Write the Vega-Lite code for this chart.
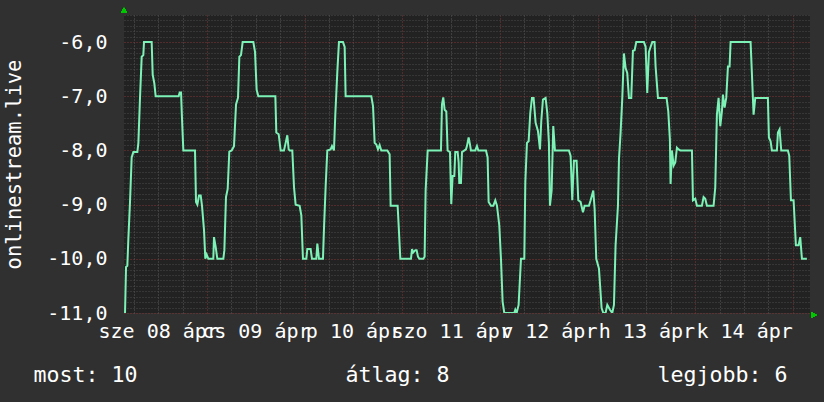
{
  "$schema": "https://vega.github.io/schema/vega-lite/v6.json",
  "width": 686,
  "height": 298,
  "autosize": {"type": "none"},
  "padding": {"left": 124, "top": 15, "right": 14, "bottom": 89},
  "background": "#303030",
  "view": {"fill": "#222222", "stroke": null},
  "resolve": {"axis": {"x": "independent", "y": "independent"}},
  "data": {"values": [
    {"t":"2020-04-08T03:51","v":-11},{"t":"2020-04-08T04:06","v":-10.15},{"t":"2020-04-08T04:25","v":-10.13},{"t":"2020-04-08T04:40","v":-9.64},{"t":"2020-04-08T05:05","v":-8.94},{"t":"2020-04-08T05:29","v":-8.13},{"t":"2020-04-08T05:54","v":-8.03},{"t":"2020-04-08T06:53","v":-8.03},{"t":"2020-04-08T07:08","v":-7.86},{"t":"2020-04-08T07:32","v":-7.03},{"t":"2020-04-08T07:57","v":-6.27},{"t":"2020-04-08T08:21","v":-6.24},{"t":"2020-04-08T08:31","v":-6},{"t":"2020-04-08T10:24","v":-6},{"t":"2020-04-08T10:39","v":-6.6},{"t":"2020-04-08T11:03","v":-6.76},{"t":"2020-04-08T11:23","v":-7},{"t":"2020-04-08T17:02","v":-7},{"t":"2020-04-08T17:17","v":-6.93},{"t":"2020-04-08T17:37","v":-6.93},{"t":"2020-04-08T17:51","v":-7.4},{"t":"2020-04-08T18:11","v":-8},{"t":"2020-04-08T21:03","v":-8},{"t":"2020-04-08T21:18","v":-8.95},{"t":"2020-04-08T21:38","v":-9},{"t":"2020-04-08T22:02","v":-8.83},{"t":"2020-04-08T22:27","v":-8.83},{"t":"2020-04-08T22:46","v":-9.02},{"t":"2020-04-08T23:16","v":-9.47},{"t":"2020-04-08T23:35","v":-10},{"t":"2020-04-08T23:55","v":-9.92},
    {"t":"2020-04-09T00:20","v":-10},{"t":"2020-04-09T01:33","v":-10},{"t":"2020-04-09T01:43","v":-9.6},{"t":"2020-04-09T02:08","v":-9.78},{"t":"2020-04-09T02:32","v":-10},{"t":"2020-04-09T04:01","v":-10},{"t":"2020-04-09T04:16","v":-9.84},{"t":"2020-04-09T04:40","v":-8.86},{"t":"2020-04-09T05:05","v":-8.71},{"t":"2020-04-09T05:29","v":-8.02},{"t":"2020-04-09T06:04","v":-8},{"t":"2020-04-09T06:38","v":-7.92},{"t":"2020-04-09T07:08","v":-7.15},{"t":"2020-04-09T07:37","v":-7.03},{"t":"2020-04-09T07:57","v":-6.27},{"t":"2020-04-09T08:21","v":-6.24},{"t":"2020-04-09T08:46","v":-6},{"t":"2020-04-09T11:23","v":-6},{"t":"2020-04-09T11:48","v":-6.18},{"t":"2020-04-09T12:12","v":-6.88},{"t":"2020-04-09T12:37","v":-7},{"t":"2020-04-09T16:48","v":-7},{"t":"2020-04-09T17:02","v":-7.67},{"t":"2020-04-09T17:37","v":-7.7},{"t":"2020-04-09T18:06","v":-8},{"t":"2020-04-09T18:55","v":-8},{"t":"2020-04-09T19:20","v":-7.86},{"t":"2020-04-09T19:44","v":-7.72},{"t":"2020-04-09T20:04","v":-7.98},{"t":"2020-04-09T20:19","v":-8},{"t":"2020-04-09T20:58","v":-8},{"t":"2020-04-09T21:23","v":-8.68},{"t":"2020-04-09T21:47","v":-9},{"t":"2020-04-09T22:46","v":-9.02},{"t":"2020-04-09T23:11","v":-9.2},{"t":"2020-04-09T23:35","v":-10},
    {"t":"2020-04-10T00:25","v":-10},{"t":"2020-04-10T00:39","v":-9.82},{"t":"2020-04-10T01:28","v":-9.82},{"t":"2020-04-10T01:48","v":-10},{"t":"2020-04-10T02:52","v":-10},{"t":"2020-04-10T03:07","v":-9.72},{"t":"2020-04-10T03:31","v":-10},{"t":"2020-04-10T04:30","v":-10},{"t":"2020-04-10T04:45","v":-9.44},{"t":"2020-04-10T05:10","v":-8.65},{"t":"2020-04-10T05:34","v":-8},{"t":"2020-04-10T06:23","v":-7.98},{"t":"2020-04-10T06:43","v":-7.92},{"t":"2020-04-10T07:12","v":-8},{"t":"2020-04-10T07:32","v":-7.34},{"t":"2020-04-10T08:02","v":-6.54},{"t":"2020-04-10T08:26","v":-6},{"t":"2020-04-10T09:25","v":-6},{"t":"2020-04-10T09:50","v":-6.09},{"t":"2020-04-10T10:04","v":-7},{"t":"2020-04-10T16:23","v":-7},{"t":"2020-04-10T16:48","v":-7.18},{"t":"2020-04-10T17:12","v":-7.86},{"t":"2020-04-10T17:37","v":-7.89},{"t":"2020-04-10T18:01","v":-7.98},{"t":"2020-04-10T18:26","v":-7.9},{"t":"2020-04-10T18:50","v":-8},{"t":"2020-04-10T20:19","v":-8},{"t":"2020-04-10T20:53","v":-8.07},{"t":"2020-04-10T21:08","v":-9.02},{"t":"2020-04-10T22:51","v":-9.02},{"t":"2020-04-10T23:06","v":-9.38},{"t":"2020-04-10T23:31","v":-10},
    {"t":"2020-04-11T02:08","v":-10},{"t":"2020-04-11T02:23","v":-9.82},{"t":"2020-04-11T02:42","v":-9.88},{"t":"2020-04-11T03:12","v":-9.84},{"t":"2020-04-11T03:31","v":-9.84},{"t":"2020-04-11T03:51","v":-9.96},{"t":"2020-04-11T04:11","v":-10},{"t":"2020-04-11T05:10","v":-10},{"t":"2020-04-11T05:29","v":-9.96},{"t":"2020-04-11T05:44","v":-8.74},{"t":"2020-04-11T06:14","v":-8},{"t":"2020-04-11T09:30","v":-8},{"t":"2020-04-11T09:45","v":-7.15},{"t":"2020-04-11T10:04","v":-7.02},{"t":"2020-04-11T10:24","v":-7.25},{"t":"2020-04-11T10:49","v":-7.28},{"t":"2020-04-11T11:08","v":-8},{"t":"2020-04-11T11:43","v":-8.03},{"t":"2020-04-11T12:02","v":-8.99},{"t":"2020-04-11T12:22","v":-8.47},{"t":"2020-04-11T12:47","v":-8.47},{"t":"2020-04-11T13:01","v":-8.03},{"t":"2020-04-11T13:36","v":-8.03},{"t":"2020-04-11T13:51","v":-8.22},{"t":"2020-04-11T14:00","v":-8.6},{"t":"2020-04-11T14:25","v":-8.6},{"t":"2020-04-11T14:40","v":-8.03},{"t":"2020-04-11T15:39","v":-7.98},{"t":"2020-04-11T15:53","v":-7.92},{"t":"2020-04-11T16:18","v":-7.76},{"t":"2020-04-11T16:38","v":-7.89},{"t":"2020-04-11T16:52","v":-8},{"t":"2020-04-11T17:56","v":-8},{"t":"2020-04-11T18:21","v":-7.92},{"t":"2020-04-11T18:41","v":-8},{"t":"2020-04-11T20:34","v":-8},{"t":"2020-04-11T20:58","v":-8.13},{"t":"2020-04-11T21:13","v":-8.95},{"t":"2020-04-11T21:47","v":-9.02},{"t":"2020-04-11T22:22","v":-9.02},{"t":"2020-04-11T22:51","v":-8.92},{"t":"2020-04-11T23:16","v":-9.02},{"t":"2020-04-11T23:50","v":-9.38},
    {"t":"2020-04-12T00:15","v":-10},{"t":"2020-04-12T00:39","v":-10.79},{"t":"2020-04-12T01:04","v":-11},{"t":"2020-04-12T03:31","v":-11},{"t":"2020-04-12T03:46","v":-10.94},{"t":"2020-04-12T04:06","v":-11},{"t":"2020-04-12T04:35","v":-10.85},{"t":"2020-04-12T05:10","v":-10},{"t":"2020-04-12T05:59","v":-10},{"t":"2020-04-12T06:14","v":-8.59},{"t":"2020-04-12T06:38","v":-7.86},{"t":"2020-04-12T07:03","v":-7.83},{"t":"2020-04-12T07:27","v":-7.31},{"t":"2020-04-12T07:52","v":-7.03},{"t":"2020-04-12T08:16","v":-7.03},{"t":"2020-04-12T08:46","v":-7.49},{"t":"2020-04-12T09:20","v":-7.64},{"t":"2020-04-12T09:50","v":-7.98},{"t":"2020-04-12T10:09","v":-7.46},{"t":"2020-04-12T10:34","v":-7.06},{"t":"2020-04-12T11:13","v":-7.03},{"t":"2020-04-12T11:38","v":-7.31},{"t":"2020-04-12T12:02","v":-7.86},{"t":"2020-04-12T12:17","v":-9.02},{"t":"2020-04-12T12:42","v":-8.74},{"t":"2020-04-12T13:06","v":-7.55},{"t":"2020-04-12T13:31","v":-8},{"t":"2020-04-12T16:57","v":-8},{"t":"2020-04-12T17:22","v":-8.1},{"t":"2020-04-12T17:46","v":-8.92},{"t":"2020-04-12T18:11","v":-8.19},{"t":"2020-04-12T18:50","v":-8.19},{"t":"2020-04-12T19:15","v":-8.92},{"t":"2020-04-12T19:49","v":-8.95},{"t":"2020-04-12T20:24","v":-9.14},{"t":"2020-04-12T20:48","v":-9.02},{"t":"2020-04-12T21:52","v":-9.02},{"t":"2020-04-12T22:17","v":-8.92},{"t":"2020-04-12T22:56","v":-8.74},{"t":"2020-04-12T23:16","v":-9.08},{"t":"2020-04-12T23:40","v":-10},
    {"t":"2020-04-13T00:20","v":-10.18},{"t":"2020-04-13T00:59","v":-10.91},{"t":"2020-04-13T01:24","v":-11},{"t":"2020-04-13T01:58","v":-11},{"t":"2020-04-13T02:23","v":-10.85},{"t":"2020-04-13T03:02","v":-10.94},{"t":"2020-04-13T03:36","v":-11},{"t":"2020-04-13T04:01","v":-10.85},{"t":"2020-04-13T04:25","v":-9.75},{"t":"2020-04-13T05:00","v":-9.02},{"t":"2020-04-13T05:15","v":-8.16},{"t":"2020-04-13T05:39","v":-7.67},{"t":"2020-04-13T06:04","v":-7.03},{"t":"2020-04-13T06:28","v":-6.21},{"t":"2020-04-13T06:53","v":-6.48},{"t":"2020-04-13T07:17","v":-6.57},{"t":"2020-04-13T07:42","v":-7.03},{"t":"2020-04-13T08:16","v":-7.03},{"t":"2020-04-13T08:41","v":-6.16},{"t":"2020-04-13T09:06","v":-6.15},{"t":"2020-04-13T09:30","v":-6},{"t":"2020-04-13T11:23","v":-6},{"t":"2020-04-13T11:48","v":-6.09},{"t":"2020-04-13T12:12","v":-6.94},{"t":"2020-04-13T12:37","v":-6.18},{"t":"2020-04-13T13:01","v":-6.09},{"t":"2020-04-13T13:26","v":-6},{"t":"2020-04-13T14:00","v":-6},{"t":"2020-04-13T14:15","v":-6.45},{"t":"2020-04-13T14:50","v":-7.03},{"t":"2020-04-13T16:57","v":-7.03},{"t":"2020-04-13T17:22","v":-7.28},{"t":"2020-04-13T17:46","v":-7.8},{"t":"2020-04-13T17:56","v":-8.62},{"t":"2020-04-13T18:16","v":-8},{"t":"2020-04-13T18:41","v":-8.28},{"t":"2020-04-13T19:05","v":-8.22},{"t":"2020-04-13T19:30","v":-7.95},{"t":"2020-04-13T19:54","v":-7.98},{"t":"2020-04-13T20:19","v":-8},{"t":"2020-04-13T23:11","v":-8},{"t":"2020-04-13T23:26","v":-8.92},
    {"t":"2020-04-14T00:00","v":-8.89},{"t":"2020-04-14T00:25","v":-9.02},{"t":"2020-04-14T01:38","v":-9.02},{"t":"2020-04-14T02:03","v":-8.86},{"t":"2020-04-14T02:27","v":-8.89},{"t":"2020-04-14T02:52","v":-9.02},{"t":"2020-04-14T04:30","v":-9.02},{"t":"2020-04-14T04:55","v":-8.68},{"t":"2020-04-14T05:19","v":-7.34},{"t":"2020-04-14T05:44","v":-7.03},{"t":"2020-04-14T06:09","v":-7.55},{"t":"2020-04-14T06:33","v":-7.28},{"t":"2020-04-14T06:48","v":-6.97},{"t":"2020-04-14T07:12","v":-7.21},{"t":"2020-04-14T07:37","v":-7.03},{"t":"2020-04-14T08:02","v":-6.45},{"t":"2020-04-14T08:26","v":-6.45},{"t":"2020-04-14T08:41","v":-6},{"t":"2020-04-14T13:36","v":-6},{"t":"2020-04-14T13:55","v":-6.57},{"t":"2020-04-14T14:20","v":-7.34},{"t":"2020-04-14T14:45","v":-7.03},{"t":"2020-04-14T17:51","v":-7.03},{"t":"2020-04-14T18:06","v":-7.76},{"t":"2020-04-14T18:31","v":-7.83},{"t":"2020-04-14T18:50","v":-8},{"t":"2020-04-14T20:04","v":-8},{"t":"2020-04-14T20:19","v":-7.67},{"t":"2020-04-14T20:43","v":-7.61},{"t":"2020-04-14T21:08","v":-8},{"t":"2020-04-14T22:46","v":-8},{"t":"2020-04-14T23:06","v":-8.1},{"t":"2020-04-14T23:31","v":-8.92},
    {"t":"2020-04-15T00:10","v":-8.92},{"t":"2020-04-15T00:44","v":-9.75},{"t":"2020-04-15T01:24","v":-9.75},{"t":"2020-04-15T01:48","v":-9.6},{"t":"2020-04-15T02:13","v":-10},{"t":"2020-04-15T03:26","v":-10}
  ]},
  "layer": [
    {
      "mark": {"type": "line", "color": "#7cf2b6", "strokeWidth": 2, "interpolate": "linear", "clip": true},
      "encoding": {
        "x": {
          "field": "t", "type": "temporal",
          "scale": {"domain": [{"year": 2020, "month": 4, "date": 8, "hours": 3, "minutes": 36}, {"year": 2020, "month": 4, "date": 15, "hours": 4, "minutes": 12}]},
          "axis": {
            "orient": "bottom",
            "values": [
              {"year":2020,"month":4,"date":8,"hours":6},{"year":2020,"month":4,"date":8,"hours":12},{"year":2020,"month":4,"date":8,"hours":18},
              {"year":2020,"month":4,"date":9,"hours":0},{"year":2020,"month":4,"date":9,"hours":6},{"year":2020,"month":4,"date":9,"hours":12},{"year":2020,"month":4,"date":9,"hours":18},
              {"year":2020,"month":4,"date":10,"hours":0},{"year":2020,"month":4,"date":10,"hours":6},{"year":2020,"month":4,"date":10,"hours":12},{"year":2020,"month":4,"date":10,"hours":18},
              {"year":2020,"month":4,"date":11,"hours":0},{"year":2020,"month":4,"date":11,"hours":6},{"year":2020,"month":4,"date":11,"hours":12},{"year":2020,"month":4,"date":11,"hours":18},
              {"year":2020,"month":4,"date":12,"hours":0},{"year":2020,"month":4,"date":12,"hours":6},{"year":2020,"month":4,"date":12,"hours":12},{"year":2020,"month":4,"date":12,"hours":18},
              {"year":2020,"month":4,"date":13,"hours":0},{"year":2020,"month":4,"date":13,"hours":6},{"year":2020,"month":4,"date":13,"hours":12},{"year":2020,"month":4,"date":13,"hours":18},
              {"year":2020,"month":4,"date":14,"hours":0},{"year":2020,"month":4,"date":14,"hours":6},{"year":2020,"month":4,"date":14,"hours":12},{"year":2020,"month":4,"date":14,"hours":18},
              {"year":2020,"month":4,"date":15,"hours":0}
            ],
            "grid": true,
            "gridColor": {"condition": {"test": "hours(datum.value) === 0", "value": "#7e3636"}, "value": "#5a5a5a"},
            "gridDash": [1, 2],
            "gridWidth": 1,
            "ticks": false,
            "domain": false,
            "labelExpr": "hours(datum.value) === 12 ? (['v','h','k','sze','cs','p','szo'][day(datum.value)] + ' ' + timeFormat(datum.value, '%d') + ' ápr') : ''",
            "labelFont": "DejaVu Sans Mono",
            "labelFontSize": 20,
            "labelColor": "#ffffff",
            "labelPadding": 8,
            "labelFlush": false,
            "labelOverlap": false,
            "labelBound": false,
            "title": "most: 10\u00a0\u00a0\u00a0\u00a0\u00a0\u00a0\u00a0\u00a0\u00a0\u00a0\u00a0\u00a0\u00a0\u00a0\u00a0\u00a0átlag: 8\u00a0\u00a0\u00a0\u00a0\u00a0\u00a0\u00a0\u00a0\u00a0\u00a0\u00a0\u00a0\u00a0\u00a0\u00a0\u00a0legjobb: 6",
            "titleFont": "DejaVu Sans Mono",
            "titleFontSize": 21.6,
            "titleFontWeight": "normal",
            "titleColor": "#ffffff",
            "titleX": -91,
            "titleY": 62,
            "titleAlign": "left",
            "titleBaseline": "middle"
          }
        },
        "y": {
          "field": "v", "type": "quantitative",
          "scale": {"domain": [-11, -5.5], "nice": false, "zero": false},
          "axis": {
            "orient": "left",
            "values": [-11,-10.9,-10.8,-10.7,-10.6,-10.5,-10.4,-10.3,-10.2,-10.1,-10,-9.9,-9.8,-9.7,-9.6,-9.5,-9.4,-9.3,-9.2,-9.1,-9,-8.9,-8.8,-8.7,-8.6,-8.5,-8.4,-8.3,-8.2,-8.1,-8,-7.9,-7.8,-7.7,-7.6,-7.5,-7.4,-7.3,-7.2,-7.1,-7,-6.9,-6.8,-6.7,-6.6,-6.5,-6.4,-6.3,-6.2,-6.1,-6,-5.9,-5.8,-5.7,-5.6,-5.5],
            "grid": true,
            "gridColor": {"condition": {"test": "abs(datum.value - round(datum.value)) < 0.001", "value": "#7e3636"}, "value": "#4a4a4a"},
            "gridDash": [1, 2],
            "gridWidth": 1,
            "ticks": false,
            "domain": false,
            "labelExpr": "abs(datum.value - round(datum.value)) < 0.001 ? ((datum.value < 0 ? '-' : '') + replace(format(abs(datum.value), '.1f'), '.', ',')) : ''",
            "labelFont": "DejaVu Sans Mono",
            "labelFontSize": 20,
            "labelColor": "#ffffff",
            "labelPadding": 17,
            "labelOverlap": false,
            "labelBound": false,
            "labelFlush": false,
            "labelBaseline": "middle",
            "title": "onlinestream.live",
            "titleFont": "DejaVu Sans Mono",
            "titleFontSize": 20.5,
            "titleFontWeight": "normal",
            "titleColor": "#ffffff",
            "titleX": -110,
            "titleY": 149,
            "titleAngle": 270,
            "titleAlign": "center",
            "titleBaseline": "middle"
          }
        }
      }
    },
    {
      "mark": {"type": "point", "shape": "triangle-up", "filled": true, "color": "#00c800", "opacity": 1, "size": 30, "yOffset": -5, "clip": false},
      "encoding": {
        "x": {"datum": {"year": 2020, "month": 4, "date": 8, "hours": 3, "minutes": 36}, "type": "temporal", "axis": null},
        "y": {"datum": -5.5, "type": "quantitative", "axis": null}
      }
    },
    {
      "mark": {"type": "point", "shape": "triangle-right", "filled": true, "color": "#00c800", "opacity": 1, "size": 30, "xOffset": 4, "yOffset": 2, "clip": false},
      "encoding": {
        "x": {"datum": {"year": 2020, "month": 4, "date": 15, "hours": 4, "minutes": 12}, "type": "temporal", "axis": null},
        "y": {"datum": -11, "type": "quantitative", "axis": null}
      }
    }
  ]
}
